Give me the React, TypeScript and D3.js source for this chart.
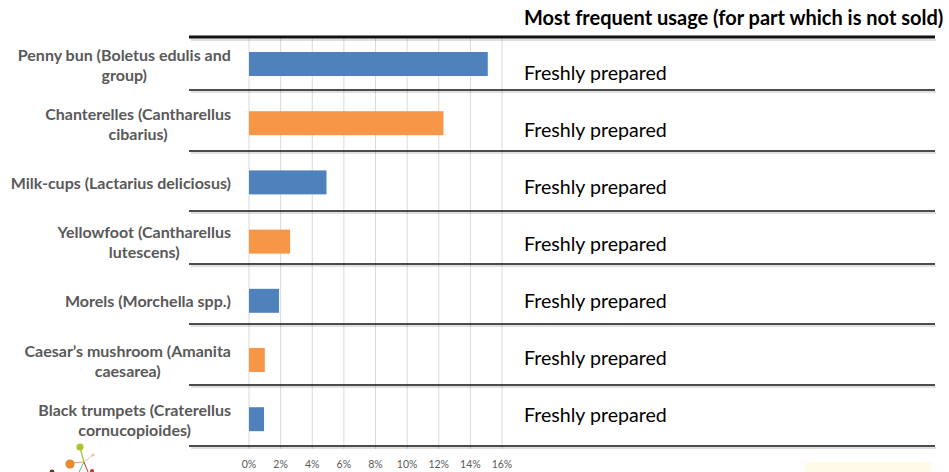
import React from "react";
import * as d3 from "d3";

// Mushroom species and the share (%) recorded for each
const categoryLines: string[][] = [
  ["Penny bun (Boletus edulis and", "group)"],
  ["Chanterelles (Cantharellus", "cibarius)"],
  ["Milk-cups (Lactarius deliciosus)"],
  ["Yellowfoot (Cantharellus", "lutescens)"],
  ["Morels (Morchella spp.)"],
  ["Caesar\u2019s mushroom (Amanita", "caesarea)"],
  ["Black trumpets (Craterellus", "cornucopioides)"],
];
const shares = [15.1, 12.3, 4.9, 2.6, 1.9, 1.0, 0.95];
const usage = [
  "Freshly prepared",
  "Freshly prepared",
  "Freshly prepared",
  "Freshly prepared",
  "Freshly prepared",
  "Freshly prepared",
  "Freshly prepared",
];
const xTicks = [0, 2, 4, 6, 8, 10, 12, 14, 16];
const tableTitle = "Most frequent usage (for part which is not sold)";

const W = 949;
const H = 472;
const BLUE = "#4F81BD";
const ORANGE = "#F79646";
const GREY_TEXT = "#595959";
const FONT = "Lato, 'Open Sans', sans-serif";
const LABEL_SIZE = 16;

// table rule positions (top rule is heavier)
const ruleYs = [37, 90, 151, 211, 264, 324, 385, 446];

let measureCtx: CanvasRenderingContext2D | null = null;
function textWidth(s: string, font: string): number {
  if (!measureCtx && typeof document !== "undefined") {
    measureCtx = document.createElement("canvas").getContext("2d");
  }
  if (!measureCtx) return s.length * 8;
  measureCtx.font = font;
  return measureCtx.measureText(s).width;
}

export default function App() {
  const ids = categoryLines.map((_, i) => i);
  const x = d3.scaleLinear().domain([0, 16]).range([249, 502]);
  const y = d3
    .scaleBand<number>()
    .domain(ids)
    .range([34.4, 448.8])
    .paddingInner(0.595)
    .paddingOuter(0.2975);
  const usageY = d3.scalePoint<number>().domain(ids).range([72, 414]);
  const labelFont = `700 ${LABEL_SIZE}px Lato`;

  return (
    <svg
      width={W}
      height={H}
      style={{ position: "absolute", left: 0, top: 0, background: "#fff" }}
      fontFamily={FONT}
    >
      {/* vertical gridlines */}
      {xTicks.map((t) => (
        <line
          key={"g" + t}
          x1={x(t)}
          x2={x(t)}
          y1={37}
          y2={449}
          stroke="#d9d9d9"
          strokeWidth={1}
        />
      ))}

      {/* table rules with soft shadow */}
      {ruleYs.map((ry, i) => (
        <g key={"r" + i}>
          <line
            x1={191}
            x2={936}
            y1={ry + (i === 0 ? 3 : 2)}
            y2={ry + (i === 0 ? 3 : 2)}
            stroke="#000"
            strokeOpacity={0.12}
            strokeWidth={2}
          />
          <line
            x1={189}
            x2={935}
            y1={ry}
            y2={ry}
            stroke="#111"
            strokeWidth={i === 0 ? 3 : 1.6}
          />
        </g>
      ))}

      {/* bars */}
      {shares.map((v, i) => (
        <rect
          key={"b" + i}
          x={x(0)}
          y={y(i)!}
          width={x(v) - x(0)}
          height={y.bandwidth()}
          fill={i % 2 === 0 ? BLUE : ORANGE}
        />
      ))}

      {/* category labels: block right-aligned, lines centred within block */}
      {categoryLines.map((lines, i) => {
        const cy = y(i)! + y.bandwidth() / 2;
        const lh = 20;
        const start = cy - ((lines.length - 1) * lh) / 2;
        const blockW = Math.max(...lines.map((l) => textWidth(l, labelFont)));
        const cx = 231 - blockW / 2;
        return (
          <text
            key={"c" + i}
            textAnchor="middle"
            fontSize={LABEL_SIZE}
            fontWeight={700}
            fill={GREY_TEXT}
          >
            {lines.map((ln, j) => (
              <tspan
                key={j}
                x={cx}
                y={start + j * lh}
                dominantBaseline="central"
              >
                {ln}
              </tspan>
            ))}
          </text>
        );
      })}

      {/* x-axis tick labels */}
      {xTicks.map((t) => (
        <text
          key={"t" + t}
          x={x(t)}
          y={464}
          textAnchor="middle"
          dominantBaseline="central"
          fontSize={10.5}
          fill={GREY_TEXT}
        >
          {t + "%"}
        </text>
      ))}

      {/* usage column */}
      <text
        x={524}
        y={17}
        dominantBaseline="central"
        fontSize={20}
        fontWeight={700}
        fill="#000"
      >
        {tableTitle}
      </text>
      {usage.map((u, i) => (
        <text
          key={"u" + i}
          x={524}
          y={usageY(i)}
          dominantBaseline="central"
          fontSize={19.6}
          fill="#000"
        >
          {u}
        </text>
      ))}

      {/* small logo mark */}
      <g>
        <line x1={84} x2={80} y1={462} y2={448} stroke="#9ACD32" strokeWidth={1.2} />
        <line x1={84} x2={71} y1={462} y2={463} stroke="#F0A060" strokeWidth={1.2} />
        <line x1={84} x2={93} y1={462} y2={455} stroke="#F4B8B8" strokeWidth={1} />
        <line x1={84} x2={88} y1={462} y2={472} stroke="#c0392b" strokeWidth={1} />
        <line x1={84} x2={79} y1={462} y2={472} stroke="#66bb66" strokeWidth={1} />
        <circle cx={80} cy={447} r={3.6} fill="#A8C62A" />
        <circle cx={70} cy={464} r={4.6} fill="#E8892B" />
        <circle cx={93} cy={455} r={1.6} fill="#F4C0A0" />
        <circle cx={92} cy={471} r={2} fill="#c0392b" />
        <circle cx={52} cy={472} r={2.4} fill="#5a3a2a" />
      </g>
      <rect x={805} y={462} width={126} height={10} fill="#fffbe8" />
    </svg>
  );
}
